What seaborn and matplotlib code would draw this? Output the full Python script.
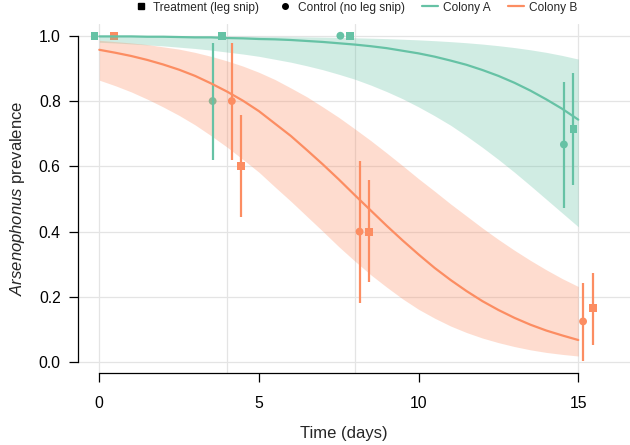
import numpy as np
import pandas as pd
import matplotlib.pyplot as plt
import seaborn as sns
from matplotlib.lines import Line2D

# fitted curves and 95% bands, every half day
fit_days = [0, 0.5, 1, 1.5, 2, 2.5, 3, 3.5, 4, 4.5, 5, 5.5, 6, 6.5, 7, 7.5,
            8, 8.5, 9, 9.5, 10, 10.5, 11, 11.5, 12, 12.5, 13, 13.5, 14, 14.5, 15]
colA_fit = [0.998, 0.998, 0.998, 0.997, 0.997, 0.996, 0.995, 0.995, 0.993, 0.992,
            0.990, 0.989, 0.987, 0.984, 0.981, 0.977, 0.973, 0.968, 0.962, 0.954,
            0.946, 0.936, 0.924, 0.911, 0.895, 0.877, 0.856, 0.832, 0.805, 0.776, 0.743]
colA_low = [0.980, 0.978, 0.975, 0.972, 0.969, 0.965, 0.961, 0.956, 0.950, 0.944,
            0.937, 0.928, 0.919, 0.908, 0.896, 0.882, 0.867, 0.849, 0.829, 0.807,
            0.782, 0.755, 0.726, 0.693, 0.658, 0.621, 0.582, 0.541, 0.499, 0.457, 0.415]
colA_high = [0.9997, 0.9996, 0.9995, 0.9994, 0.9993, 0.9991, 0.9990, 0.9988, 0.9985,
             0.9982, 0.9979, 0.9975, 0.9970, 0.9964, 0.9957, 0.9948, 0.9938, 0.9926,
             0.9912, 0.9894, 0.9874, 0.9849, 0.9820, 0.9786, 0.9745, 0.9696, 0.9638,
             0.9570, 0.9491, 0.9396, 0.9286]
colB_fit = [0.957, 0.948, 0.938, 0.926, 0.912, 0.896, 0.877, 0.854, 0.829, 0.801,
            0.769, 0.731, 0.693, 0.650, 0.606, 0.560, 0.512, 0.465, 0.418, 0.373,
            0.330, 0.289, 0.252, 0.218, 0.187, 0.160, 0.136, 0.115, 0.097, 0.082, 0.068]
colB_low = [0.864, 0.847, 0.828, 0.806, 0.782, 0.756, 0.727, 0.694, 0.659, 0.621,
            0.582, 0.537, 0.493, 0.447, 0.401, 0.354, 0.310, 0.268, 0.230, 0.194,
            0.162, 0.135, 0.111, 0.091, 0.074, 0.060, 0.048, 0.038, 0.030, 0.024, 0.019]
colB_high = [0.986, 0.982, 0.978, 0.973, 0.966, 0.959, 0.949, 0.937, 0.923, 0.907,
             0.888, 0.866, 0.840, 0.813, 0.782, 0.750, 0.715, 0.679, 0.641, 0.602,
             0.562, 0.524, 0.485, 0.448, 0.411, 0.376, 0.343, 0.312, 0.283, 0.256, 0.232]

# observed prevalence with intervals
obs_colony = ['Colony A'] * 7 + ['Colony B'] * 7
obs_group = ['Treatment'] * 4 + ['Control'] * 3 + ['Treatment'] * 4 + ['Control'] * 3
obs_day = [0, 4, 8, 15, 4, 8, 15, 0, 4, 8, 15, 4, 8, 15]
obs_prev = [1.0, 1.0, 1.0, 0.714, 0.8, 1.0, 0.667,
            1.0, 0.6, 0.4, 0.167, 0.8, 0.4, 0.125]
obs_low = [1.0, 1.0, 1.0, 0.543, 0.619, 1.0, 0.472,
           1.0, 0.445, 0.246, 0.053, 0.619, 0.181, 0.003]
obs_high = [1.0, 1.0, 1.0, 0.886, 0.979, 1.0, 0.858,
            1.0, 0.757, 0.558, 0.272, 0.979, 0.616, 0.242]

sample_days = [0, 4, 8, 15]

colors = {'Colony A': '#66c2a5', 'Colony B': '#fc8d62'}
dodge = {('Colony A', 'Control'): -0.45, ('Colony A', 'Treatment'): -0.15,
         ('Colony B', 'Control'): 0.15, ('Colony B', 'Treatment'): 0.45}

n = len(fit_days)
fits = pd.DataFrame({
    'day': fit_days * 2,
    'prev': colA_fit + colB_fit,
    'low': colA_low + colB_low,
    'high': colA_high + colB_high,
    'colony': ['Colony A'] * n + ['Colony B'] * n,
})
obs = pd.DataFrame({'colony': obs_colony, 'group': obs_group, 'day': obs_day,
                    'prev': obs_prev, 'low': obs_low, 'high': obs_high})
obs['x'] = obs['day'] + [dodge[(c, g)] for c, g in zip(obs['colony'], obs['group'])]

sns.set_style('white')
plt.rcParams['font.family'] = ['Liberation Sans', 'DejaVu Sans']
plt.rcParams['mathtext.fontset'] = 'custom'
plt.rcParams['mathtext.rm'] = 'Liberation Sans'
plt.rcParams['mathtext.it'] = 'Liberation Sans:italic'

fig = plt.figure(figsize=(6.3, 4.45), dpi=100)
ax = fig.add_axes([78 / 630, 72 / 445, 552 / 630, 349 / 445])

# grid
for v in np.arange(0, 1.01, 0.2):
    ax.axhline(v, color='#e4e4e4', lw=0.9, zorder=0)
for d in sample_days:
    ax.axvline(d, color='#e4e4e4', lw=0.9, zorder=0)

# points (under the ribbons)
sns.scatterplot(data=obs, x='x', y='prev', hue='colony', style='group',
                markers={'Treatment': 's', 'Control': 'o'}, palette=colors,
                s=32, linewidth=0, legend=False, ax=ax, zorder=2)

# ribbons
for col, sub in fits.groupby('colony'):
    ax.fill_between(sub['day'], sub['low'], sub['high'], color=colors[col],
                    alpha=0.3, lw=0, zorder=3)

# error bars
ax.vlines(obs['x'], obs['low'], obs['high'],
          colors=[colors[c] for c in obs['colony']], lw=1.6, zorder=4)

# fitted lines
sns.lineplot(data=fits, x='day', y='prev', hue='colony', palette=colors,
             lw=1.6, legend=False, ax=ax, zorder=5)

ax.set_xlim(-0.667, 16.62)
ax.set_ylim(-0.033, 1.036)
ax.set_xticks([0, 5, 10, 15])
ax.set_yticks(np.arange(0, 1.01, 0.2))
ax.set_yticklabels([f'{v:.1f}' for v in np.arange(0, 1.01, 0.2)])

for s in ['top', 'right']:
    ax.spines[s].set_visible(False)
ax.spines['left'].set_bounds(0, 1)
ax.spines['bottom'].set_bounds(0, 15)
for s in ['left', 'bottom']:
    ax.spines[s].set_color('black')
    ax.spines[s].set_linewidth(0.9)

ax.tick_params(axis='both', direction='out', length=6.5, width=0.9,
               color='black', labelsize=11.3, labelcolor='black', left=True, bottom=True)
ax.tick_params(axis='x', pad=10)
ax.tick_params(axis='y', pad=6)

ax.set_xlabel('Time (days)', fontsize=12, va='center')
ax.xaxis.set_label_coords(0.481, -0.172)
ax.set_ylabel(r'$\mathit{Arsenophonus}$ prevalence', fontsize=12, va='center')
ax.yaxis.set_label_coords(-0.11, 0.5)

handles = [
    Line2D([], [], marker='s', color='black', ls='none', markersize=4),
    Line2D([], [], marker='o', color='black', ls='none', markersize=4),
    Line2D([], [], color=colors['Colony A'], lw=1.6),
    Line2D([], [], color=colors['Colony B'], lw=1.6),
]
labels = ['Treatment (leg snip)', 'Control (no leg snip)', 'Colony A', 'Colony B']
fig.legend(handles, labels, loc='center', bbox_to_anchor=(0.5635, 0.983), ncol=4,
           frameon=False, fontsize=8.6, handlelength=1.3, handletextpad=0.4,
           columnspacing=1.5, borderaxespad=0)

fig.savefig('out.png', dpi=100)
